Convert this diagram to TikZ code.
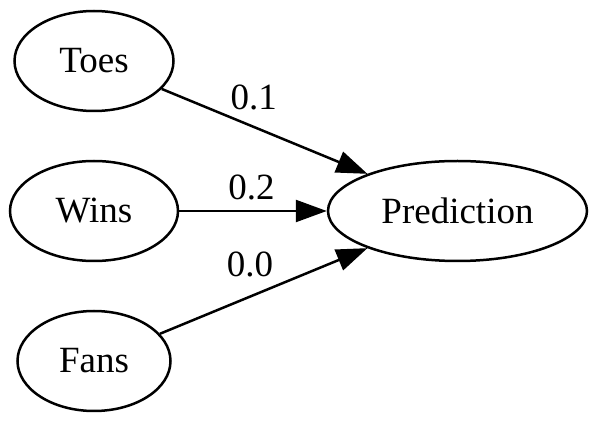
\documentclass[tikz,border=0pt]{standalone}
\usepackage{fontspec}
\setmainfont{Liberation Serif}
\usepackage{tikz}
\usetikzlibrary{arrows.meta,shapes.geometric}

\begin{document}
\begin{tikzpicture}[x=1pt,y=1pt,node distance=150pt,line width=2.5pt,
                    >={Triangle[length=31pt,width=22pt]},
                    font=\fontsize{37}{44}\selectfont,
                    feature/.style={ellipse,draw,inner sep=0pt,minimum height=100pt},
                    weight/.style={inner sep=6pt}]
      \useasboundingbox (0,0) rectangle (598,-422);
      \node[feature,minimum width=168pt](W) at (94,-211) {Wins};
      \node[feature,minimum width=159pt](T) [above of=W] {Toes};
      \node[feature,minimum width=153pt](F) [below of=W] {Fans};
      \node[feature,minimum width=259pt](P) [right of=W,node distance=363.5pt] {Prediction};
      \path[->] (T) edge node[weight,pos=0.31,inner sep=4pt,anchor=south west] {0.1} (P)
                (W) edge node[weight,pos=0.49,inner sep=10pt,anchor=south]     {0.2} (P)
                (F) edge node[weight,pos=0.58,anchor=south east]               {0.0} (P);
\end{tikzpicture}
\end{document}
